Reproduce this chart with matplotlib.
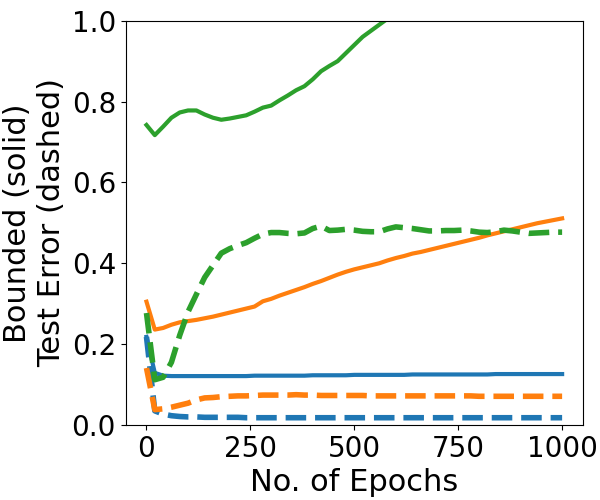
import numpy as np
import matplotlib
matplotlib.use("Agg")
import matplotlib.pyplot as plt

# epochs sampled every 20
epochs = list(range(0, 1001, 20))

# blue run
blue_bound = [0.218, 0.129, 0.122, 0.121, 0.121, 0.121, 0.121, 0.121, 0.121, 0.121,
              0.121, 0.121, 0.121, 0.122, 0.122, 0.122, 0.122, 0.122, 0.122, 0.122,
              0.123, 0.123, 0.123, 0.123, 0.123, 0.124, 0.124, 0.124, 0.124, 0.124,
              0.124, 0.124, 0.125, 0.125, 0.125, 0.125, 0.125, 0.125, 0.125, 0.125,
              0.125, 0.125, 0.126, 0.126, 0.126, 0.126, 0.126, 0.126, 0.126, 0.126,
              0.126]
blue_test = [0.218, 0.035, 0.027, 0.023, 0.021, 0.020, 0.020, 0.019, 0.019, 0.019,
             0.019, 0.019, 0.018, 0.018, 0.018, 0.018, 0.018, 0.018, 0.018, 0.018,
             0.018, 0.018, 0.018, 0.018, 0.018, 0.018, 0.018, 0.018, 0.018, 0.018,
             0.018, 0.018, 0.018, 0.018, 0.018, 0.018, 0.018, 0.018, 0.018, 0.018,
             0.018, 0.018, 0.018, 0.018, 0.018, 0.018, 0.018, 0.018, 0.018, 0.018,
             0.018]

# orange run
orange_bound = [0.305, 0.236, 0.240, 0.248, 0.254, 0.257, 0.260, 0.264, 0.268, 0.273,
                0.278, 0.283, 0.288, 0.293, 0.306, 0.312, 0.320, 0.327, 0.334, 0.341,
                0.349, 0.356, 0.364, 0.372, 0.379, 0.385, 0.390, 0.395, 0.400, 0.407,
                0.413, 0.418, 0.424, 0.428, 0.433, 0.438, 0.443, 0.448, 0.453, 0.458,
                0.463, 0.469, 0.474, 0.479, 0.484, 0.489, 0.494, 0.499, 0.503, 0.507,
                0.511]
orange_test = [0.141, 0.038, 0.040, 0.044, 0.049, 0.054, 0.062, 0.067, 0.068, 0.070,
               0.071, 0.072, 0.072, 0.073, 0.074, 0.074, 0.074, 0.074, 0.075, 0.074,
               0.074, 0.073, 0.073, 0.073, 0.073, 0.073, 0.073, 0.072, 0.072, 0.072,
               0.072, 0.072, 0.072, 0.072, 0.072, 0.072, 0.072, 0.072, 0.072, 0.072,
               0.071, 0.071, 0.071, 0.071, 0.071, 0.071, 0.071, 0.071, 0.071, 0.071,
               0.071]

# green run (bound leaves the plot after ~580 epochs)
green_bound = [0.742, 0.717, 0.738, 0.760, 0.773, 0.778, 0.778, 0.768, 0.760, 0.755,
               0.758, 0.762, 0.766, 0.775, 0.785, 0.790, 0.803, 0.815, 0.828, 0.838,
               0.855, 0.875, 0.888, 0.900, 0.920, 0.940, 0.960, 0.975, 0.990, 1.005,
               1.020]
green_test = [0.277, 0.112, 0.118, 0.155, 0.222, 0.280, 0.323, 0.365, 0.395, 0.425,
              0.436, 0.444, 0.451, 0.462, 0.472, 0.476, 0.476, 0.474, 0.473, 0.475,
              0.486, 0.492, 0.481, 0.482, 0.484, 0.482, 0.479, 0.478, 0.478, 0.485,
              0.490, 0.488, 0.486, 0.483, 0.480, 0.480, 0.481, 0.481, 0.482, 0.480,
              0.477, 0.476, 0.478, 0.482, 0.480, 0.477, 0.474, 0.475, 0.476, 0.477,
              0.477]

fig = plt.figure(figsize=(6, 5), dpi=100)
ax = fig.add_axes([0.2095, 0.15, 0.762, 0.8086])

runs = [(blue_bound, blue_test, 'tab:blue'),
        (orange_bound, orange_test, 'tab:orange'),
        (green_bound, green_test, 'tab:green')]
for bound, test, color in runs:
    ax.plot(epochs[:len(bound)], bound, color=color, linestyle='-', linewidth=3)
    ax.plot(epochs[:len(test)], test, color=color, linestyle='--', linewidth=4)

ax.set_xlim(-50, 1050)
ax.set_ylim(0, 1)
ax.set_xticks([0, 250, 500, 750, 1000])
ax.set_yticks(np.arange(0, 1.01, 0.2))
ax.tick_params(labelsize=20)
ax.set_xlabel('No. of Epochs', fontsize=22)
ax.set_ylabel('Bounded (solid)\nTest Error (dashed)', fontsize=22)

fig.savefig('out.png', dpi=100)
